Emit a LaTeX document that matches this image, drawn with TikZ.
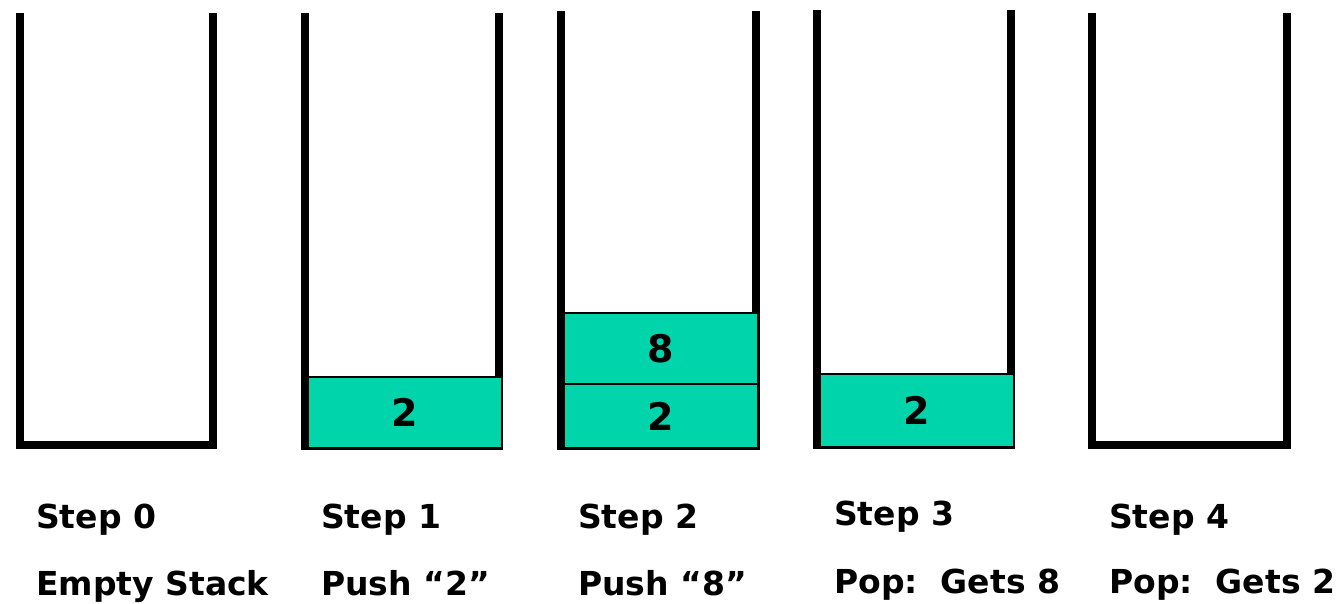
\documentclass[tikz,border=0pt]{standalone}
\usepackage{fontspec}
\setmainfont{DejaVu Sans}
\definecolor{stackgreen}{RGB}{0,212,170}
\tikzset{
  wall/.style={line width=8pt, line join=miter, black},
  item/.style={draw=black, line width=1.3pt, fill=stackgreen, inner sep=0pt,
    minimum width=194pt, font=\fontsize{38}{42}\selectfont\bfseries},
  lbl/.style={anchor=base west, inner sep=0pt, font=\fontsize{33}{38}\selectfont\bfseries}
}
\begin{document}
\begin{tikzpicture}[x=1pt,y=-1pt]
\useasboundingbox (0,0) rectangle (1342,604);
% stack walls
\draw[wall] (19.5,13) -- (19.5,445) -- (212.5,445) -- (212.5,13);
\draw[wall] (304.5,13) -- (304.5,446) -- (499,446) -- (499,13);
\draw[wall] (561,11) -- (561,446) -- (755.5,446) -- (755.5,11);
\draw[wall] (817,10) -- (817,445) -- (1011,445) -- (1011,10);
\draw[wall] (1092,13) -- (1092,445) -- (1286.5,445) -- (1286.5,13);
% items
\node[item, minimum height=71pt] (b1) at (405,412.5) {2};
\node[item, minimum height=64pt] (b2a) at (661,416) {2};
\node[item, minimum height=71pt] (b2b) at (661,348.5) {8};
\node[item, minimum height=73pt] (b3) at (917,410.5) {2};
% labels
\node[lbl] (s0) at (36,528) {Step 0};
\node[lbl] (t0) at (36,595) {Empty Stack};
\node[lbl] (s1) at (321,528) {Step 1};
\node[lbl] (t1) at (321,595) {Push “2”};
\node[lbl] (s2) at (578,528) {Step 2};
\node[lbl] (t2) at (578,595) {Push “8”};
\node[lbl] (s3) at (834,525) {Step 3};
\node[lbl] (t3) at (834,593) {Pop:\ \ Gets 8};
\node[lbl] (s4) at (1109,528) {Step 4};
\node[lbl] (t4) at (1109,593) {Pop:\ \ Gets 2};
\end{tikzpicture}
\end{document}
